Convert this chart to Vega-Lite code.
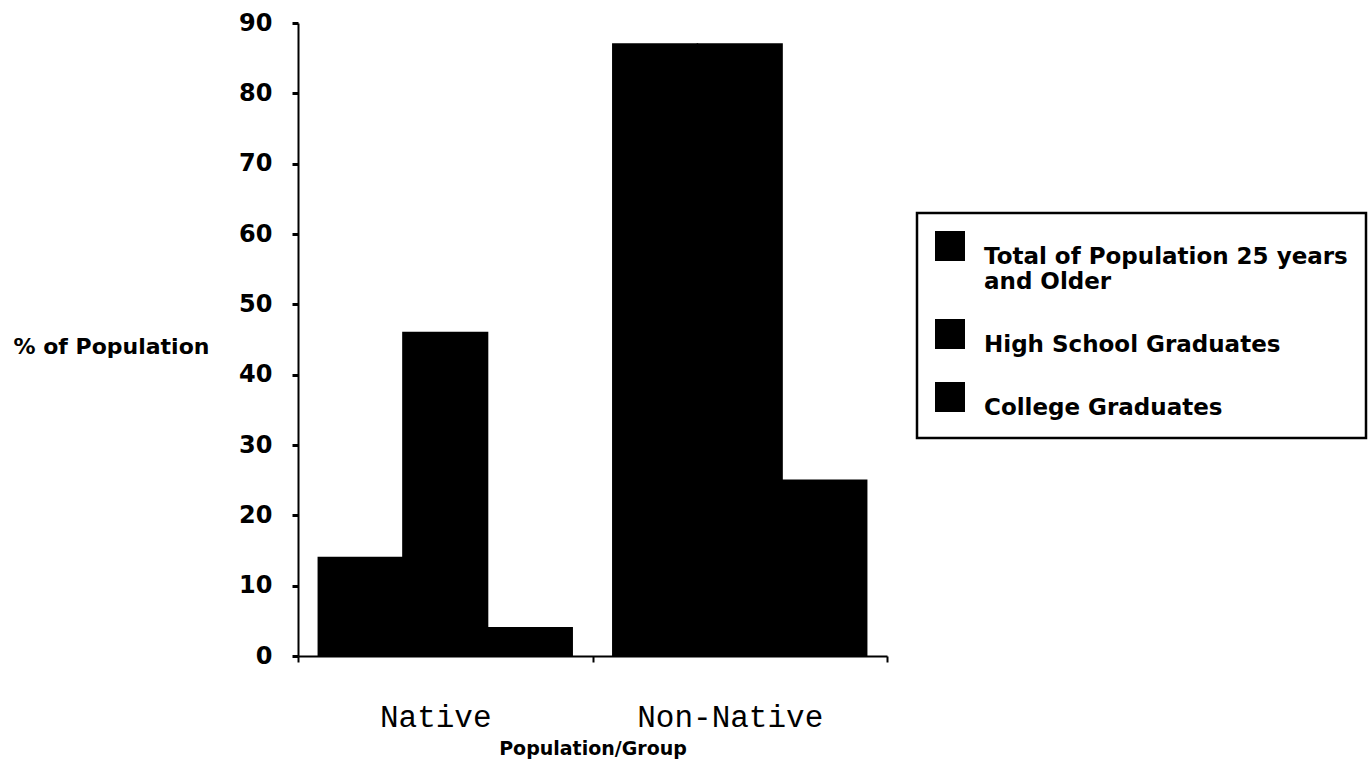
{
  "$schema": "https://vega.github.io/schema/vega-lite/v6.json",
  "autosize": {"type": "none"},
  "width": 589,
  "height": 633,
  "padding": {"left": 298, "top": 23, "right": 482, "bottom": 107},
  "background": "white",
  "config": {"view": {"stroke": null}, "legend": {"strokeWidth": 2.5}},
  "data": {
    "values": [
      {"group": "Native", "category": "Total of Population 25 years and Older", "pct": 14},
      {"group": "Native", "category": "High School Graduates", "pct": 46},
      {"group": "Native", "category": "College Graduates", "pct": 4},
      {"group": "Non-Native", "category": "Total of Population 25 years and Older", "pct": 87},
      {"group": "Non-Native", "category": "High School Graduates", "pct": 87},
      {"group": "Non-Native", "category": "College Graduates", "pct": 25}
    ]
  },
  "mark": {"type": "bar", "color": "black", "stroke": "black", "strokeWidth": 1.5},
  "encoding": {
    "x": {
      "field": "group",
      "type": "nominal",
      "sort": ["Native", "Non-Native"],
      "scale": {"paddingInner": 0, "paddingOuter": 0},
      "axis": {
        "title": "Population/Group",
        "labelAngle": 0,
        "labelFont": "Liberation Mono",
        "labelFontSize": 31,
        "labelColor": "black",
        "labelPadding": 40,
        "labelLimit": 400,
        "labelOffset": -10,
        "tickBand": "extent",
        "tickColor": "black",
        "tickSize": 6,
        "tickWidth": 2,
        "domainColor": "black",
        "domainWidth": 2,
        "titleFont": "DejaVu Sans",
        "titleFontWeight": "bold",
        "titleFontSize": 19,
        "titleColor": "black",
        "titleBaseline": "middle",
        "titleY": 92
      }
    },
    "xOffset": {
      "field": "category",
      "type": "nominal",
      "sort": ["Total of Population 25 years and Older", "High School Graduates", "College Graduates"],
      "scale": {"paddingInner": 0, "paddingOuter": 0.24}
    },
    "y": {
      "field": "pct",
      "type": "quantitative",
      "scale": {"domain": [0, 90]},
      "axis": {
        "values": [0, 10, 20, 30, 40, 50, 60, 70, 80, 90],
        "grid": false,
        "labelFont": "DejaVu Sans",
        "labelFontWeight": "bold",
        "labelFontSize": 24,
        "labelColor": "black",
        "labelPadding": 20,
        "tickColor": "black",
        "tickSize": 6,
        "tickWidth": 3,
        "domainColor": "black",
        "domainWidth": 2,
        "title": "% of Population",
        "titleAngle": 0,
        "titleAlign": "left",
        "titleBaseline": "middle",
        "titleX": -285,
        "titleY": 323,
        "titleFont": "DejaVu Sans",
        "titleFontWeight": "bold",
        "titleFontSize": 22,
        "titleColor": "black"
      }
    },
    "color": {
      "field": "category",
      "type": "nominal",
      "sort": ["Total of Population 25 years and Older", "High School Graduates", "College Graduates"],
      "scale": {"range": ["black", "black", "black"]},
      "legend": {
        "title": null,
        "orient": "none",
        "legendX": 619,
        "legendY": 190,
        "padding": 18,
        "strokeColor": "black",
        "symbolType": "square",
        "symbolSize": 900,
        "symbolStrokeWidth": 0,
        "symbolFillColor": "black",
        "labelFont": "DejaVu Sans",
        "labelFontWeight": "bold",
        "labelFontSize": 23,
        "labelColor": "black",
        "labelOffset": 19,
        "labelBaseline": "top",
        "labelLimit": 600,
        "rowPadding": 25,
        "labelExpr": "datum.label == 'Total of Population 25 years and Older' ? ['Total of Population 25 years', 'and Older'] : datum.label"
      }
    }
  }
}
